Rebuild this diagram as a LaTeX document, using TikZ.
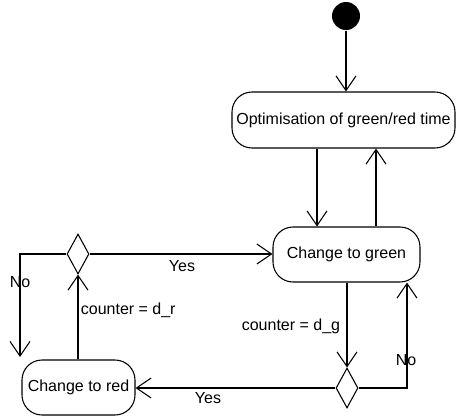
\documentclass[tikz,border=0pt]{standalone}
\usepackage{fontspec}
\setmainfont{Liberation Sans}
\usetikzlibrary{arrows.meta,shapes.geometric}
\begin{document}
\begin{tikzpicture}[x=0.75pt,y=-0.75pt,
  line width=0.8pt,
  every node/.style={font=\fontsize{12}{14}\selectfont},
  state/.style={draw,rounded corners=15pt,inner sep=0pt},
  decision/.style={draw,diamond,inner sep=0pt,minimum width=16.5pt,minimum height=30pt},
  arr/.style={-{Straight Barb[length=11pt,width=15pt]}},
  lbl/.style={inner sep=1pt}]
\useasboundingbox (0,0) rectangle (456,419);
\node[circle,fill=black,inner sep=0pt,minimum size=21pt] (dot) at (346,16) {};
\node[state,minimum width=167.25pt,minimum height=42pt] (opt) at (343.5,120) {Optimisation of green/red time};
\node[state,minimum width=110.25pt,minimum height=41.25pt] (green) at (346.5,254.5) {Change to green};
\node[state,minimum width=84.75pt,minimum height=41.25pt] (red) at (78.5,387.5) {Change to red};
\node[decision] (dg) at (347,388) {};
\node[decision] (dr) at (78,254) {};
\coordinate (noend) at (20,357);

\draw[arr] (dot.south) -- (dot.south |- opt.north);
\draw[arr] (opt.south -| 317,0) -- (green.north -| 317,0);
\draw[arr] (green.north -| 376,0) -- (opt.south -| 376,0);
\draw[arr] (dg.north |- green.south) -- (dg.north);
\draw[arr] (dg.east) -| (green.south -| 407,0);
\draw[arr] (dg.west) -- (red.east |- dg.west);
\draw[arr] (red.north -| dr.south) -- (dr.south);
\draw[arr] (dr.east) -- (green.west |- dr.east);
\draw[arr] (dr.west) -| (noend);

\node[lbl] (l1) at (182,266) {Yes};
\node[lbl,anchor=west] (l2) at (79,310) {counter = d\_r};
\node[lbl,anchor=east] (l3) at (342,326) {counter = d\_g};
\node[lbl] (l4) at (208,398) {Yes};
\node[lbl] (l5) at (20,282) {No};
\node[lbl] (l6) at (406,360) {No};
\end{tikzpicture}
\end{document}
